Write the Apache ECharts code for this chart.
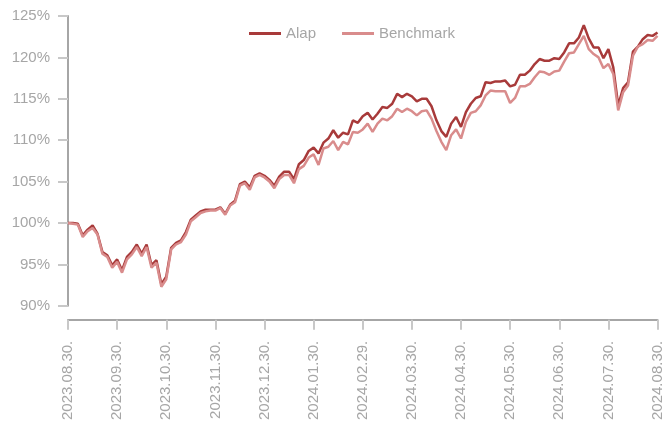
<!DOCTYPE html>
<html>
<head>
<meta charset="utf-8">
<script src="https://cdn.jsdelivr.net/npm/echarts@6/dist/echarts.min.js"></script>
<style>
  html, body { margin: 0; padding: 0; background: #fff; }
  #chart { width: 665px; height: 423px; }
</style>
</head>
<body>
<div id="chart"></div>
<script>
// month-end tick labels, 10 points per month
const tickLabels = ['2023.08.30.', '2023.09.30.', '2023.10.30.', '2023.11.30.', '2023.12.30.',
  '2024.01.30.', '2024.02.29.', '2024.03.30.', '2024.04.30.', '2024.05.30.',
  '2024.06.30.', '2024.07.30.', '2024.08.30.'];
const pointsPerMonth = 10;

// cumulative performance, %
const alap = [
  100.0, 100.0, 99.9, 98.5, 99.2, 99.7, 98.7, 96.5, 96.1, 94.9,
  95.6, 94.3, 95.9, 96.5, 97.4, 96.3, 97.4, 94.9, 95.5, 92.6,
  93.5, 97.0, 97.6, 97.9, 98.9, 100.4, 100.9, 101.4, 101.6, 101.6,
  101.6, 101.9, 101.1, 102.2, 102.7, 104.7, 105.0, 104.3, 105.7, 106.0,
  105.7, 105.2, 104.5, 105.6, 106.2, 106.2, 105.3, 107.1, 107.6, 108.7,
  109.1, 108.4, 109.7, 110.2, 111.2, 110.3, 110.9, 110.7, 112.4, 112.1,
  112.9, 113.3, 112.5, 113.2, 114.0, 113.9, 114.4, 115.6, 115.2, 115.6,
  115.3, 114.7, 115.0, 115.0, 114.1, 112.4, 111.1, 110.4, 112.0, 112.8,
  111.6, 113.4, 114.4, 115.1, 115.3, 117.0, 116.9, 117.1, 117.1, 117.2,
  116.5, 116.7, 117.9, 117.9, 118.4, 119.2, 119.8, 119.6, 119.6, 119.9,
  119.8, 120.6, 121.7, 121.7, 122.4, 123.9, 122.3, 121.2, 121.2, 119.9,
  121.0, 118.8, 114.2, 116.3, 117.0, 120.7, 121.3, 122.2, 122.7, 122.6,
  123.0
];
const benchmark = [
  100.0, 99.9, 99.8, 98.3, 99.0, 99.4, 98.6, 96.3, 95.9, 94.6,
  95.3, 94.0, 95.6, 96.2, 97.1, 96.0, 97.1, 94.6, 95.2, 92.3,
  93.2, 96.8, 97.4, 97.7, 98.6, 100.2, 100.7, 101.2, 101.4, 101.5,
  101.5, 101.8, 101.0, 102.1, 102.5, 104.5, 104.8, 104.0, 105.5, 105.8,
  105.5, 105.0, 104.2, 105.3, 105.8, 105.8, 104.8, 106.5, 106.9, 107.9,
  108.3, 107.0, 109.0, 109.2, 109.9, 108.8, 109.8, 109.5, 111.0, 110.9,
  111.3, 112.0, 111.0, 112.0, 112.6, 112.4, 112.9, 113.8, 113.4, 113.8,
  113.5, 113.0, 113.5, 113.6, 112.6, 111.1, 109.8, 108.8, 110.6, 111.3,
  110.2, 112.2, 113.3, 113.5, 114.2, 115.4, 116.0, 115.9, 115.9, 115.9,
  114.5, 115.1, 116.5, 116.5, 116.8, 117.6, 118.3, 118.2, 117.9, 118.3,
  118.4, 119.5, 120.5, 120.6, 121.6, 122.6, 121.0, 120.4, 120.0, 118.7,
  119.2, 118.0, 113.6, 115.8, 116.6, 120.2, 121.3, 121.6, 122.1, 122.0,
  122.6
];

const axisGray = '#a6a6a6';
const chart = echarts.init(document.getElementById('chart'));
chart.setOption({
  animation: false,
  grid: { left: 68, right: 7, top: 16, bottom: 117 },
  legend: {
    top: 21,
    left: 244,
    itemWidth: 32,
    itemHeight: 3,
    itemGap: 26,
    icon: 'rect',
    textStyle: { color: '#a6a6a6', fontSize: 15, fontFamily: 'Liberation Sans' },
    data: ['Alap', 'Benchmark']
  },
  xAxis: {
    type: 'category',
    boundaryGap: false,
    offset: 14,
    data: alap.map((v, i) => i),
    axisLine: { lineStyle: { color: axisGray, width: 2 } },
    axisTick: { interval: pointsPerMonth - 1, length: 10, lineStyle: { color: '#c8c8c8', width: 2 } },
    axisLabel: {
      interval: pointsPerMonth - 1,
      rotate: 90,
      margin: 21,
      color: axisGray,
      fontSize: 15,
      fontFamily: 'Liberation Sans',
      formatter: (v, i) => tickLabels[i / pointsPerMonth]
    },
    splitLine: { show: false }
  },
  yAxis: {
    type: 'value',
    min: 90,
    max: 125,
    interval: 5,
    axisLine: { show: true, lineStyle: { color: axisGray, width: 2 } },
    axisTick: { show: true, length: 10, lineStyle: { color: '#c8c8c8', width: 2 } },
    axisLabel: {
      color: axisGray,
      fontSize: 15,
      margin: 18,
      fontFamily: 'Liberation Sans',
      formatter: v => v + '%'
    },
    splitLine: { show: false }
  },
  series: [
    {
      name: 'Alap',
      type: 'line',
      data: alap,
      symbol: 'none',
      itemStyle: { color: '#a83a3a' },
      lineStyle: { color: '#a83a3a', width: 2.5 }
    },
    {
      name: 'Benchmark',
      type: 'line',
      data: benchmark,
      symbol: 'none',
      itemStyle: { color: '#d98c8c' },
      lineStyle: { color: '#d98c8c', width: 2.5 }
    }
  ]
});
</script>
</body>
</html>
